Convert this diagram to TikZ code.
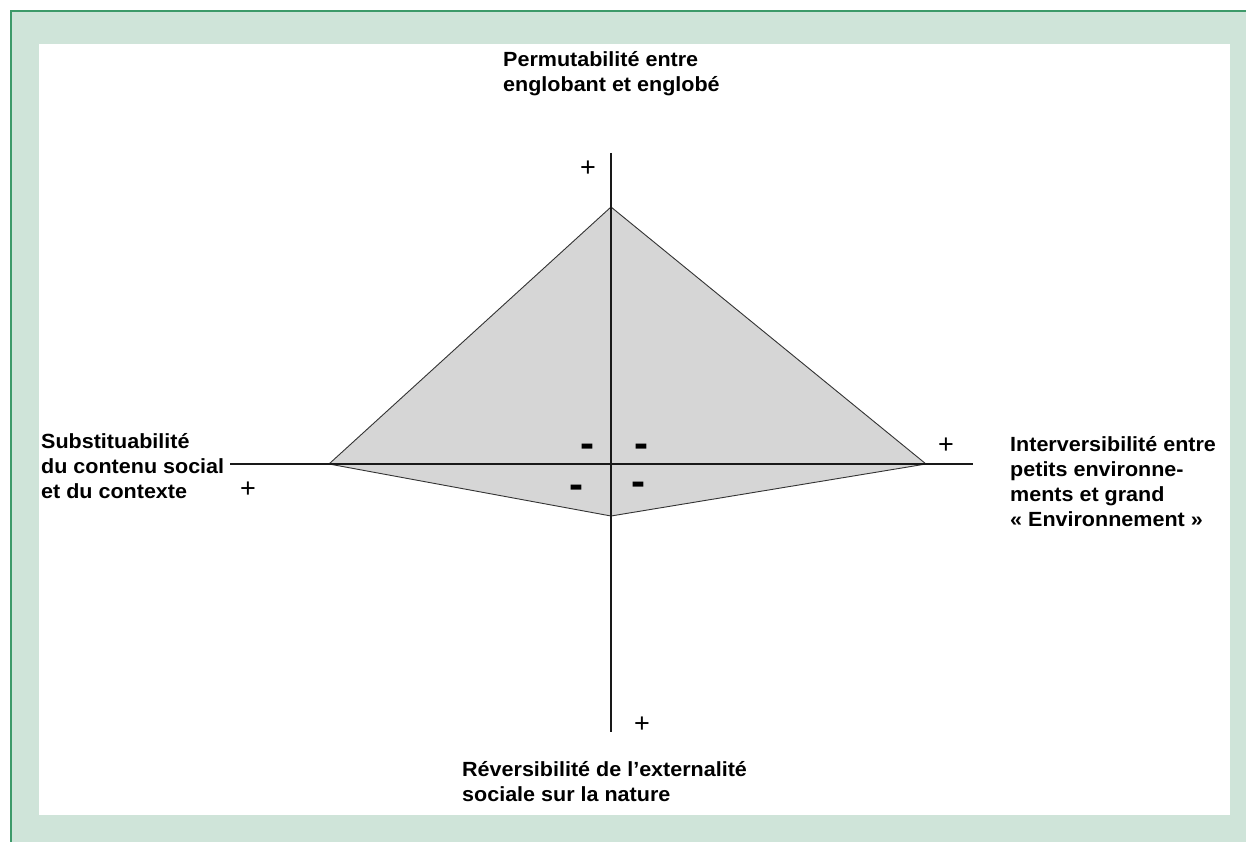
\documentclass[tikz,border=0pt]{standalone}
\usepackage{fontspec}
\setmainfont{Liberation Sans}[FakeStretch=1.05]
\newfontfamily\plusfont{Liberation Sans}
\definecolor{bggreen}{HTML}{CFE4D9}
\definecolor{bordergreen}{HTML}{3D9A6A}
\definecolor{shapegray}{HTML}{D6D6D6}
\tikzset{
  lbl/.style={anchor=base west, align=left, inner sep=0pt,
    font=\fontsize{20.5}{25}\selectfont\bfseries},
  plussign/.style={anchor=base, inner sep=0pt, font=\plusfont\fontsize{27}{27}\selectfont},
  minussign/.style={anchor=base, inner sep=0pt, font=\plusfont\fontsize{42}{42}\selectfont\bfseries},
  axis/.style={line width=1.5pt, draw=black!90},
}
\begin{document}
\begin{tikzpicture}[x=1pt,y=-1pt]
\useasboundingbox (0,0) rectangle (1246,842);
% frame
\fill[bggreen] (11,11) rectangle (1246,842);
\draw[bordergreen, line width=2pt] (11,842) -- (11,11) -- (1246,11);
\fill[white] (39,44) rectangle (1230,815);
% polygon vertices
\coordinate (T) at (611,207);
\coordinate (R) at (926,464);
\coordinate (B) at (611,516);
\coordinate (Lv) at (329,464);
\filldraw[fill=shapegray, draw=black!80, line width=0.9pt] (T) -- (R) -- (B) -- (Lv) -- cycle;
% axes
\coordinate (axL) at (230,464);
\coordinate (axR) at (973,464);
\coordinate (axT) at (611,153);
\coordinate (axB) at (611,732);
\draw[axis] (axL) -- (axR);
\draw[axis] (axT) -- (axB);
% plus signs
\node[plussign] (pT) at (588,176.5) {+};
\node[plussign] (pR) at (946,453.5) {+};
\node[plussign] (pL) at (248,497.5) {+};
\node[plussign] (pB) at (642,732.5) {+};
% minus signs
\node[minussign] (m1) at (587,457.5) {-};
\node[minussign] (m2) at (641.5,457.5) {-};
\node[minussign] (m3) at (576.5,498) {-};
\node[minussign] (m4) at (638,495) {-};
% labels (base = baseline of the last line)
\node[lbl] (top) at (503,91.5) {Permutabilité entre\\englobant et englobé};
\node[lbl] (left) at (41,498) {Substituabilité\\du contenu social\\et du contexte};
\node[lbl] (right) at (1010,526.5) {Interversibilité entre\\petits environne-\\ments et grand\\« Environnement »};
\node[lbl] (bottom) at (462,801.5) {Réversibilité de l’externalité\\sociale sur la nature};
\end{tikzpicture}
\end{document}
